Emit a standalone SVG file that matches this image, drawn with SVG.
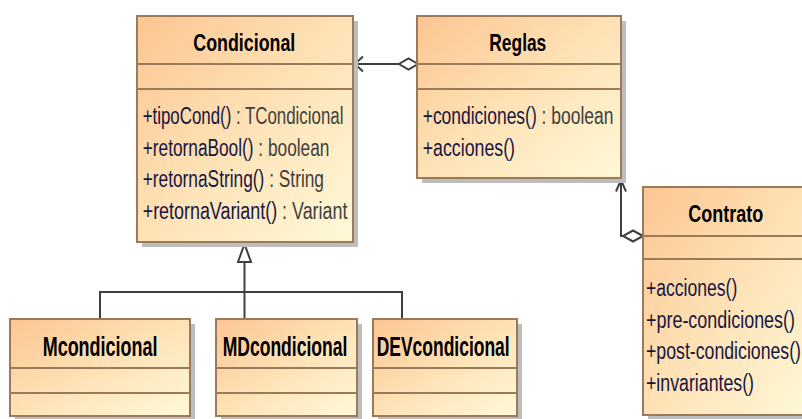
<svg xmlns="http://www.w3.org/2000/svg" width="802" height="419" viewBox="0 0 802 419">
<defs>
<linearGradient id="fillG" x1="0" y1="0" x2="1" y2="1">
<stop offset="0" stop-color="#FCC592"/>
<stop offset="0.5" stop-color="#FEE2B6"/>
<stop offset="1" stop-color="#FFF9D8"/>
</linearGradient>
</defs>
<style>
.shadow{fill:#bdbdbd;}
.box{fill:url(#fillG);stroke:#9a7a58;stroke-width:2;}
.div{stroke:#9a7a58;stroke-width:2;}
.title{font-family:"Liberation Sans",Arial,sans-serif;font-weight:bold;fill:#000;}
.t1{font-size:23px;}
.t2{font-size:28px;}
.op{font-family:"Liberation Sans",Arial,sans-serif;font-size:23px;fill:#161640;}
.ty{fill:#404040;}
.ln{fill:none;stroke:#404040;stroke-width:2;}
.dia{fill:#fff;stroke:#404040;stroke-width:2;}
</style>
<rect width="802" height="419" fill="#fff"/>

<g id="connectors">
<line class="ln" x1="355" y1="64" x2="399" y2="64"/>
<polyline class="ln" points="363,56.5 355,64 363,71.5"/>
<polygon class="dia" points="418,64 408.5,58.5 399,64 408.5,69.5"/>
<polyline class="ln" points="621,180 621,236 623,236"/>
<polyline class="ln" points="616,191.5 621,180 626,191.5"/>
<polygon class="dia" points="643,236 633,230.5 623,236 633,241.5"/>
<line class="ln" x1="244.5" y1="262" x2="244.5" y2="319"/>
<polyline class="ln" points="100,319 100,292 402,292 402,319"/>
<polygon class="dia" points="244.5,244 238,262 251,262"/>
</g>

<g id="Condicional">
<rect class="shadow" x="142" y="21" width="216" height="226"/>
<rect class="box" x="137" y="16" width="216" height="226"/>
<line class="div" x1="137" y1="64" x2="353" y2="64"/>
<line class="div" x1="137" y1="89" x2="353" y2="89"/>
<text class="title t1" x="193.3" y="51" textLength="102" lengthAdjust="spacingAndGlyphs">Condicional</text>
<text class="op" x="142.7" y="124" textLength="200.7" lengthAdjust="spacingAndGlyphs">+tipoCond()<tspan class="ty"> : TCondicional</tspan></text>
<text class="op" x="142.7" y="155.7" textLength="186.7" lengthAdjust="spacingAndGlyphs">+retornaBool()<tspan class="ty"> : boolean</tspan></text>
<text class="op" x="142.7" y="187.3" textLength="181.3" lengthAdjust="spacingAndGlyphs">+retornaString()<tspan class="ty"> : String</tspan></text>
<text class="op" x="142.7" y="219" textLength="204.7" lengthAdjust="spacingAndGlyphs">+retornaVariant()<tspan class="ty"> : Variant</tspan></text>
</g>

<g id="Reglas">
<rect class="shadow" x="422" y="21" width="204" height="162"/>
<rect class="box" x="417" y="16" width="204" height="162"/>
<line class="div" x1="417" y1="64" x2="621" y2="64"/>
<line class="div" x1="417" y1="89" x2="621" y2="89"/>
<text class="title t1" x="489.3" y="51" textLength="57" lengthAdjust="spacingAndGlyphs">Reglas</text>
<text class="op" x="422.7" y="124" textLength="190.7" lengthAdjust="spacingAndGlyphs">+condiciones()<tspan class="ty"> : boolean</tspan></text>
<text class="op" x="422.7" y="155.7" textLength="92.3" lengthAdjust="spacingAndGlyphs">+acciones()</text>
</g>

<g id="Contrato">
<rect class="shadow" x="648" y="192" width="170" height="228"/>
<rect class="box" x="643" y="187" width="170" height="228"/>
<line class="div" x1="643" y1="236" x2="813" y2="236"/>
<line class="div" x1="643" y1="259" x2="813" y2="259"/>
<text class="title t1" x="688.3" y="222" textLength="75" lengthAdjust="spacingAndGlyphs">Contrato</text>
<text class="op" x="646" y="296" textLength="91.3" lengthAdjust="spacingAndGlyphs">+acciones()</text>
<text class="op" x="646" y="327.7" textLength="149" lengthAdjust="spacingAndGlyphs">+pre-condiciones()</text>
<text class="op" x="646" y="359.3" textLength="155" lengthAdjust="spacingAndGlyphs">+post-condiciones()</text>
<text class="op" x="646" y="391" textLength="108" lengthAdjust="spacingAndGlyphs">+invariantes()</text>
</g>

<g id="Mcondicional">
<rect class="shadow" x="15" y="324" width="180" height="97"/>
<rect class="box" x="10" y="319" width="180" height="97"/>
<line class="div" x1="10" y1="368" x2="190" y2="368"/>
<line class="div" x1="10" y1="393" x2="190" y2="393"/>
<text class="title t2" x="42.7" y="355.5" textLength="114.7" lengthAdjust="spacingAndGlyphs">Mcondicional</text>
</g>

<g id="MDcondicional">
<rect class="shadow" x="221" y="324" width="141" height="97"/>
<rect class="box" x="216" y="319" width="141" height="97"/>
<line class="div" x1="216" y1="368" x2="357" y2="368"/>
<line class="div" x1="216" y1="393" x2="357" y2="393"/>
<text class="title t2" x="222.7" y="355.5" textLength="124.6" lengthAdjust="spacingAndGlyphs">MDcondicional</text>
</g>

<g id="DEVcondicional">
<rect class="shadow" x="378" y="324" width="144" height="97"/>
<rect class="box" x="373" y="319" width="144" height="97"/>
<line class="div" x1="373" y1="368" x2="517" y2="368"/>
<line class="div" x1="373" y1="393" x2="517" y2="393"/>
<text class="title t2" x="376.7" y="355.5" textLength="133" lengthAdjust="spacingAndGlyphs">DEVcondicional</text>
</g>
</svg>
